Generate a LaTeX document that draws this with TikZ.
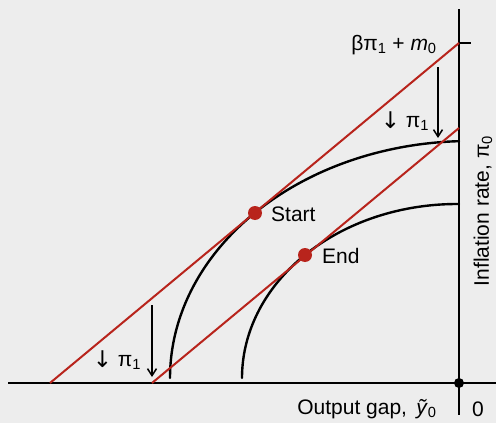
\documentclass[tikz,border=0pt]{standalone}
\usepackage{fontspec}
\setmainfont{Liberation Sans}
\newfontfamily\arrowfont{DejaVu Sans}
\usetikzlibrary{arrows.meta}
\definecolor{bgc}{HTML}{EDEDED}
\definecolor{redc}{HTML}{B8241C}
\tikzset{
  axisline/.style={line width=2.4pt, black},
  curveline/.style={line width=2.4pt, black, line cap=round},
  redline/.style={line width=2pt, redc},
  dotred/.style={circle, fill=redc, inner sep=0pt, minimum size=14pt},
  dotblack/.style={circle, fill=black, inner sep=0pt, minimum size=10pt},
  lbl/.style={font=\fontsize{21}{25}\selectfont, inner sep=0pt},
  shiftarrow/.style={line width=1.5pt, -{Straight Barb[length=7pt,width=9pt,line width=1.5pt]}},
}
\newcommand{\dnarrow}{\raisebox{-1pt}{\arrowfont\fontsize{23}{26}\selectfont ↓}}
\begin{document}
\begin{tikzpicture}[x=1pt,y=-1pt]
\fill[bgc] (0,0) rectangle (496,423);
\useasboundingbox (0,0) rectangle (496,423);
% axes
\coordinate (ytop) at (459,9);
\coordinate (ybot) at (459,415);
\coordinate (xl) at (8,383);
\coordinate (xr) at (496,383);
\coordinate (tickA) at (459,43);
\coordinate (tickB) at (471,43);
\draw[axisline] (ytop) -- (ybot);
\draw[axisline] (xl) -- (xr);
\draw[axisline] (tickA) -- (tickB);
% red lines
\coordinate (r1a) at (50,383);
\coordinate (r1b) at (459,43);
\coordinate (r2a) at (152,383);
\coordinate (r2b) at (459,128);
% curves
\draw[curveline] plot[domain=180:92.1, samples=80, smooth] ({470+300*cos(\x)}, {378-237*sin(\x)});
\draw[curveline] plot[domain=180:90, samples=80, smooth] ({457+215*cos(\x)}, {378-174*sin(\x)}) -- (459,204);
\draw[redline] (r1a) -- (r1b);
\draw[redline] (r2a) -- (r2b);
% dots
\node[dotblack] (origin) at (459,383) {};
\node[dotred] (start) at (255,213) {};
\node[dotred] (end) at (305,255) {};
\node[lbl, anchor=west] (startlbl) at ([xshift=16pt,yshift=-1pt]start.center) {Start};
\node[lbl, anchor=west] (endlbl) at ([xshift=17pt,yshift=-1pt]end.center) {End};
% shift arrows
\coordinate (a1s) at (438,67);
\coordinate (a1e) at (438,138);
\coordinate (a2s) at (152,305);
\coordinate (a2e) at (152,377);
\draw[shiftarrow] (a1s) -- (a1e);
\draw[shiftarrow] (a2s) -- (a2e);
\node[lbl] (pi1up) at (405,121) {\dnarrow\ π\textsubscript{1}};
\node[lbl] (pi1lo) at (117,360) {\dnarrow\ π\textsubscript{1}};
% labels
\node[lbl] (intercept) at (394,45) {βπ\textsubscript{1} + \textit{m}\textsubscript{0}};
\node[lbl, rotate=90] (ylabel) at (483,211) {Inflation rate, π\textsubscript{0}};
\node[lbl] (xlabel) at (367,409) {Output gap,\, \textit{ỹ}\textsubscript{0}};
\node[lbl] (zero) at (478,409) {0};
\end{tikzpicture}
\end{document}
